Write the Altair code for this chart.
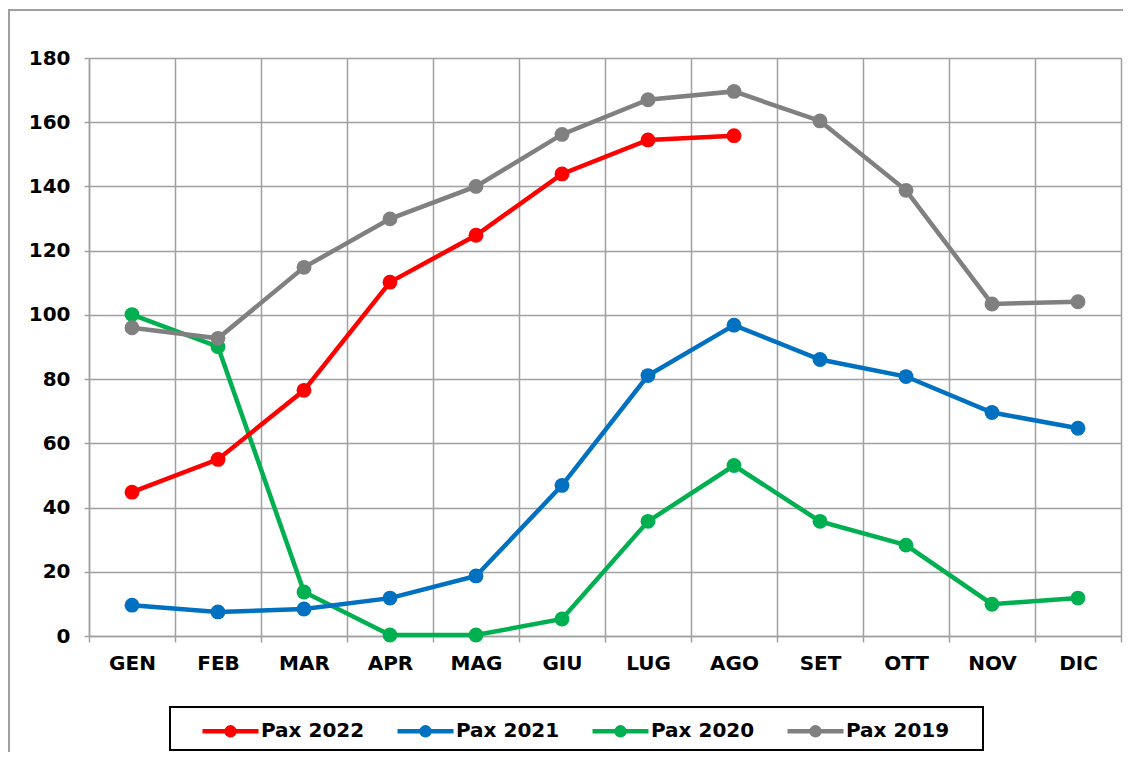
import altair as alt
import pandas as pd

months = ["GEN", "FEB", "MAR", "APR", "MAG", "GIU", "LUG", "AGO", "SET", "OTT", "NOV", "DIC"]
pax_2022 = [44.8, 55.0, 76.5, 110.2, 124.8, 143.9, 154.5, 155.8]
pax_2021 = [9.6, 7.5, 8.4, 11.8, 18.7, 46.9, 81.1, 96.8, 86.1, 80.8, 69.6, 64.7]
pax_2020 = [100.1, 90.1, 13.7, 0.3, 0.3, 5.3, 35.7, 53.1, 35.7, 28.3, 9.9, 11.8]
pax_2019 = [96.0, 92.7, 114.8, 129.9, 140.0, 156.2, 167.0, 169.6, 160.4, 138.8, 103.4, 104.1]

series_names = ["Pax 2022", "Pax 2021", "Pax 2020", "Pax 2019"]
series_colors = ["#FF0000", "#0070C0", "#00B050", "#808080"]
draw_order = ["Pax 2020", "Pax 2021", "Pax 2022", "Pax 2019"]

rows = []
for name, vals in zip(series_names, [pax_2022, pax_2021, pax_2020, pax_2019]):
    for m, v in zip(months, vals):
        rows.append({"mese": m, "pax": v, "serie": name})
df = pd.DataFrame(rows)

FONT = "DejaVu Sans"
W, H = 1032, 578

color_scale = alt.Scale(domain=series_names, range=series_colors)
x_enc = alt.X("mese:N", sort=months,
              scale=alt.Scale(domain=months, paddingInner=0, paddingOuter=0),
              axis=alt.Axis(title=None, labelAngle=0, tickBand="extent", grid=True,
                            gridColor="#A0A0A0", gridWidth=1.5, domainColor="#A0A0A0",
                            domainWidth=1.5, tickColor="#A0A0A0", tickWidth=1.5, tickSize=6,
                            labelFont=FONT, labelFontSize=20, labelFontWeight="bold",
                            labelColor="black", labelPadding=11))
y_enc = alt.Y("pax:Q", scale=alt.Scale(domain=[0, 180], nice=False),
              axis=alt.Axis(title=None, values=list(range(0, 181, 20)), grid=True,
                            gridColor="#A0A0A0", gridWidth=1.5, domainColor="#A0A0A0",
                            domainWidth=1.5, tickColor="#A0A0A0", tickWidth=1.5, tickSize=5,
                            labelFont=FONT, labelFontSize=20, labelFontWeight="bold",
                            labelColor="black", labelPadding=14))

legend_path = ("M-1,0L1,0M-0.14,0A0.14,0.14,0,1,1,0.14,0A0.14,0.14,0,1,1,-0.14,0Z")

base = alt.Chart(df)

frame = alt.Chart(df).mark_rect(fill=None, stroke="#A0A0A0", strokeWidth=1.5).encode(
    x=alt.value(-80), x2=alt.value(W + 60), y=alt.value(-48), y2=alt.value(H + 140))
legend_box = alt.Chart(df).mark_rect(fill="white", stroke="black", strokeWidth=2).encode(
    x=alt.value(81), x2=alt.value(894), y=alt.value(649), y2=alt.value(692))

layers = [frame, legend_box]
for i, name in enumerate(draw_order):
    sub = base.transform_filter(alt.datum.serie == name)
    legend = None
    if i == 0:
        legend = alt.Legend(title=None, orient="none", legendX=111, legendY=642.5,
                            direction="horizontal", symbolType=legend_path,
                            symbolSize=3136, symbolStrokeWidth=4.5,
                            labelFont=FONT, labelFontSize=20, labelFontWeight="bold",
                            labelColor="black", labelOffset=0, columnPadding=23,
                            padding=0)
    line = sub.mark_line(strokeWidth=4.5).encode(
        x=x_enc, y=y_enc,
        color=alt.Color("serie:N", scale=color_scale, legend=legend))
    pts = sub.mark_point(filled=True, size=220, opacity=1).encode(
        x=x_enc, y=y_enc,
        color=alt.Color("serie:N", scale=color_scale, legend=None))
    layers += [line, pts]

chart = alt.layer(*layers).properties(
    width=W, height=H,
    autosize=alt.AutoSizeParams(type="none"),
    padding={"left": 81, "top": 50, "right": 2, "bottom": 116},
).configure_view(stroke="#A0A0A0", strokeWidth=1.5).configure(background="white")

chart.save("out.html", embed_options={"renderer": "svg", "actions": False})
